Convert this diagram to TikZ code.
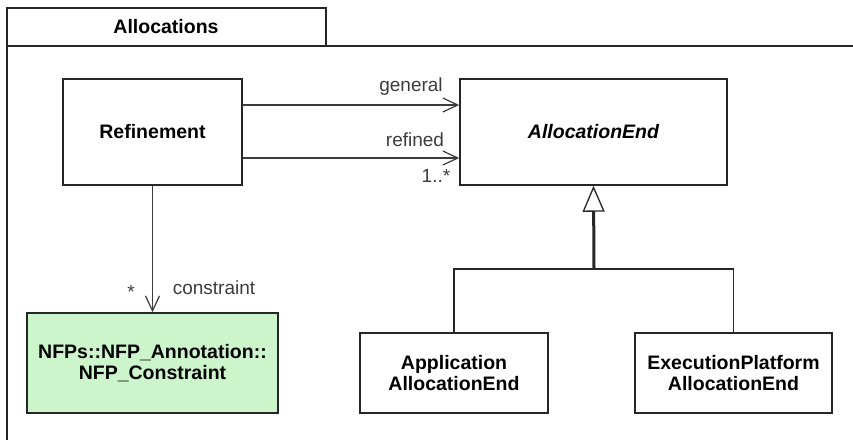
\documentclass[tikz,border=0pt]{standalone}
\usepackage{fontspec}
\setmainfont{Liberation Sans}
\definecolor{umlgreen}{RGB}{204,245,204}
\definecolor{umlgray}{RGB}{60,60,60}
\usetikzlibrary{arrows.meta,positioning}

\begin{document}
\begin{tikzpicture}[
  x=1pt, y=-1pt,
  classbox/.style={
    rectangle, draw=black!85, line width=1.5pt,
    fill=white, inner sep=1pt,
    font=\fontsize{19.5}{21}\selectfont\bfseries,
    align=center
  },
  assoc/.style={-{Straight Barb[length=15pt,width=14pt,line width=1.2pt]}, line width=1.3pt, draw=umlgray},
  genline/.style={line width=1.5pt, draw=black!85},
  gen/.style={-{Triangle[open, length=26pt, width=22pt, line width=1.3pt, fill=white]}, line width=3pt, draw=black!85},
  rolelbl/.style={font=\fontsize{19}{21}\selectfont, text=umlgray, inner sep=1pt}
]
\useasboundingbox (0,0) rectangle (853,440);
\fill[white] (0,0) rectangle (853,440);

% package frame
\draw[line width=1.5pt, draw=black!85] (7,46) rectangle (326,8);
\node[font=\fontsize{19.5}{21}\selectfont\bfseries] (pkgname) at (166,27) {Allocations};
\draw[line width=1.8pt, draw=black!85] (7,440) -- (7,46) -- (853,46);

% classes
\node[classbox, minimum width=179pt, minimum height=106pt] (refine) at (152.5,132) {Refinement};
\node[classbox, minimum width=267pt, minimum height=106pt] (allocend) at (593.5,132) {\itshape AllocationEnd};
\node[classbox, fill=umlgreen, minimum width=251pt, minimum height=100pt] (nfp) at (152.5,363)
  {NFPs::NFP\_Annotation::\\NFP\_Constraint};
\node[classbox, minimum width=188pt, minimum height=80pt] (append) at (454,373)
  {Application\\AllocationEnd};
\node[classbox, minimum width=197pt, minimum height=80pt] (execend) at (733.5,373)
  {ExecutionPlatform\\AllocationEnd};

% associations
\coordinate (gensrc) at (refine.east |- 0,105);
\coordinate (gendst) at (allocend.west |- 0,105);
\coordinate (refsrc) at (refine.east |- 0,158);
\coordinate (refdst) at (allocend.west |- 0,158);
\draw[assoc] (gensrc) -- (gendst);
\draw[assoc] (refsrc) -- (refdst);
\node[rolelbl] (lblgeneral) at (411,87) {general};
\node[rolelbl] (lblrefined) at (415,140) {refined};
\node[rolelbl] (lblmult) at (436,176) {1..*};

\draw[assoc] (refine.south) -- (nfp.north);
\node[rolelbl] (lblstar) at (131,292) {*};
\node[rolelbl] (lblconstraint) at (214,288) {constraint};

% generalization
\coordinate (junc) at (594,269);
\draw[genline] (append.north) |- (junc) -| (execend.north);
\draw[gen] (junc) -- (allocend.south);
\end{tikzpicture}
\end{document}
